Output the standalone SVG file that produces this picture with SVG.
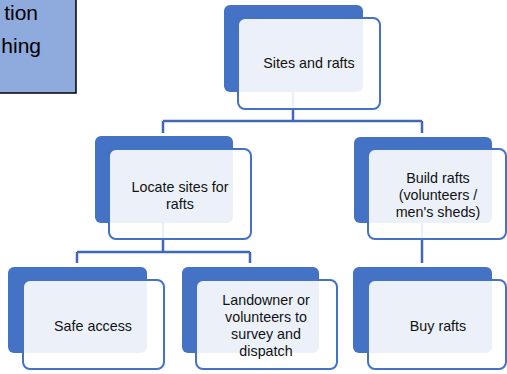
<svg xmlns="http://www.w3.org/2000/svg" width="507" height="374" viewBox="0 0 507 374">
<style>
.bg{fill:#fff}
.note{fill:#8FAADC;stroke:#000;stroke-width:1.5}
.notetxt{font-family:"Liberation Sans",Arial,sans-serif;font-size:21px;fill:#000;text-anchor:end}
.dark{fill:#4472C4}
.light{fill:#fff;fill-opacity:0.9;stroke:#4472C4;stroke-width:2}
.lbl{font-family:"Liberation Sans",Arial,sans-serif;font-size:14.3px;fill:#111;text-anchor:middle}
.conn{fill:none;stroke:#4168B8;stroke-width:2.5}
</style>
<rect class="bg" x="0" y="0" width="507" height="374"/>
<g id="note">
<rect class="note" x="-3" y="-3" width="79" height="96"/>
<text class="notetxt" x="38" y="20">tion</text>
<text class="notetxt" x="41" y="53">hing</text>
</g>
<g id="connectors">
<path class="conn" d="M293,92 V121 M163,121 H422 M163,121 V133 M422,121 V133"/>
<path class="conn" d="M163,223 V252 M77,252 H250 M77,252 V263 M250,252 V263"/>
<path class="conn" d="M422,223 V263"/>
</g>
<g id="sites-and-rafts">
<rect class="dark" x="224" y="5" width="139" height="87" rx="6"/>
<rect class="light" x="238" y="18" width="142" height="91" rx="7"/>
<text class="lbl" x="309" y="68">Sites and rafts</text>
</g>
<g id="locate-sites">
<rect class="dark" x="95" y="136" width="138" height="87" rx="6"/>
<rect class="light" x="109" y="149" width="142" height="90" rx="7"/>
<text class="lbl" x="180" y="192">Locate sites for</text>
<text class="lbl" x="180" y="209">rafts</text>
</g>
<g id="build-rafts">
<rect class="dark" x="354" y="137" width="138" height="86" rx="6"/>
<rect class="light" x="368" y="149" width="138" height="90" rx="7"/>
<text class="lbl" x="438" y="183">Build rafts</text>
<text class="lbl" x="438" y="200">(volunteers /</text>
<text class="lbl" x="438" y="217">men's sheds)</text>
</g>
<g id="safe-access">
<rect class="dark" x="8" y="267" width="139" height="86" rx="6"/>
<rect class="light" x="23" y="280" width="141" height="89" rx="7"/>
<text class="lbl" x="93" y="331">Safe access</text>
</g>
<g id="landowner">
<rect class="dark" x="182" y="267" width="137" height="86" rx="6"/>
<rect class="light" x="196" y="280" width="141" height="89" rx="7"/>
<text class="lbl" x="266" y="305">Landowner or</text>
<text class="lbl" x="266" y="322">volunteers to</text>
<text class="lbl" x="266" y="339">survey and</text>
<text class="lbl" x="266" y="356">dispatch</text>
</g>
<g id="buy-rafts">
<rect class="dark" x="353" y="267" width="139" height="86" rx="6"/>
<rect class="light" x="368" y="280" width="138" height="89" rx="7"/>
<text class="lbl" x="438" y="331">Buy rafts</text>
</g>
</svg>
